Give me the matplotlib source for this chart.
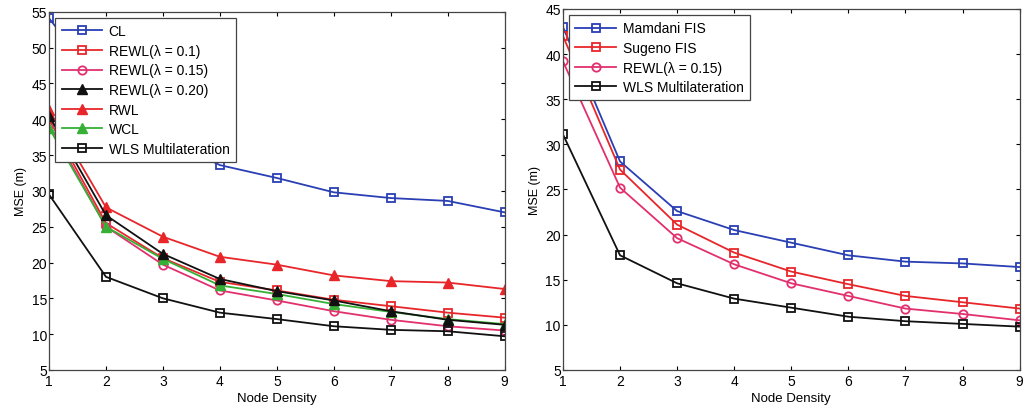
import numpy as np
import matplotlib
matplotlib.use("Agg")
import matplotlib.pyplot as plt

plt.rcParams['font.family'] = ['Liberation Sans', 'DejaVu Sans']

density = [1, 2, 3, 4, 5, 6, 7, 8, 9]

# left panel
cl = [54.1, 44.0, 37.5, 33.6, 31.8, 29.8, 29.0, 28.6, 27.0]
rewl_010 = [40.0, 25.5, 20.6, 17.3, 16.1, 14.8, 13.9, 13.0, 12.3]
rewl_015 = [39.3, 25.0, 19.7, 16.1, 14.7, 13.2, 12.0, 11.1, 10.5]
rewl_020 = [40.5, 26.6, 21.2, 17.7, 16.0, 14.7, 13.2, 12.0, 11.3]
rwl = [41.3, 27.7, 23.6, 20.8, 19.7, 18.2, 17.4, 17.2, 16.3]
wcl = [38.8, 25.0, 20.5, 16.8, 15.6, 14.2, 13.1, 12.1, 11.4]
wls_left = [29.5, 18.0, 15.0, 13.0, 12.1, 11.1, 10.6, 10.4, 9.7]

# right panel
mamdani = [43.0, 28.1, 22.6, 20.5, 19.1, 17.7, 17.0, 16.8, 16.4]
sugeno = [42.0, 27.2, 21.1, 18.0, 15.9, 14.5, 13.2, 12.5, 11.8]
rewl_015_r = [39.2, 25.2, 19.6, 16.7, 14.6, 13.2, 11.8, 11.2, 10.5]
wls_right = [31.1, 17.7, 14.6, 12.9, 11.9, 10.9, 10.4, 10.1, 9.8]

BLUE = '#2a3fb4'
RED = '#e8262a'
MAG = '#e2306e'
GREEN = '#35b035'
BLK = '#111111'

fig = plt.figure(figsize=(10.32, 4.14), dpi=100)
ax1 = fig.add_axes([0.0475, 0.104, 0.4415, 0.865])
ax2 = fig.add_axes([0.5455, 0.104, 0.4425, 0.872])

kw = dict(lw=1.3, ms=6, mfc='none', mew=1.3)
tkw = dict(lw=1.3, ms=6.5, mew=1.0)

ax1.plot(density, cl, 's-', color=BLUE, label='CL', **kw)
ax1.plot(density, rewl_010, 's-', color=RED, label='REWL(λ = 0.1)', **kw)
ax1.plot(density, rewl_015, 'o-', color=MAG, label='REWL(λ = 0.15)', **kw)
ax1.plot(density, rwl, '^-', color=RED, mfc=RED, label='RWL', **tkw)
ax1.plot(density, wcl, '^-', color=GREEN, mfc=GREEN, label='WCL', **tkw)
ax1.plot(density, rewl_020, '^-', color=BLK, mfc=BLK, label='REWL(λ = 0.20)', **tkw)
ax1.plot(density, wls_left, 's-', color=BLK, label='WLS Multilateration', **kw)
ax1.set_ylim(5, 55)
ax1.set_yticks(np.arange(5, 56, 5))

ax2.plot(density, mamdani, 's-', color=BLUE, label='Mamdani FIS', **kw)
ax2.plot(density, sugeno, 's-', color=RED, label='Sugeno FIS', **kw)
ax2.plot(density, rewl_015_r, 'o-', color=MAG, label='REWL(λ = 0.15)', **kw)
ax2.plot(density, wls_right, 's-', color=BLK, label='WLS Multilateration', **kw)
ax2.set_ylim(5, 45)
ax2.set_yticks(np.arange(5, 46, 5))

order1 = ['CL', 'REWL(λ = 0.1)', 'REWL(λ = 0.15)', 'REWL(λ = 0.20)', 'RWL', 'WCL', 'WLS Multilateration']
for ax in (ax1, ax2):
    ax.set_xlim(1, 9)
    ax.set_xticks(density)
    ax.tick_params(direction='in', top=True, right=True, labelsize=10, length=3)
    ax.tick_params(axis='y', pad=1.5)
    ax.tick_params(axis='x', pad=3)
    ax.set_xlabel('Node Density', fontsize=9.5, labelpad=3)
    ax.set_ylabel('MSE (m)', fontsize=9, labelpad=3)
    for s in ax.spines.values():
        s.set_linewidth(0.9)
        s.set_color('#444444')

h, l = ax1.get_legend_handles_labels()
hmap = dict(zip(l, h))
legkw = dict(loc='upper left', fontsize=10, fancybox=False, framealpha=1,
             edgecolor='#444444', handlelength=2.9, borderaxespad=0.45,
             labelspacing=0.4, borderpad=0.45, handletextpad=0.5)
leg1 = ax1.legend([hmap[k] for k in order1], order1, **legkw)
leg2 = ax2.legend(**legkw)
for lg in (leg1, leg2):
    lg.get_frame().set_linewidth(0.9)

fig.savefig('out.png', dpi=100)
